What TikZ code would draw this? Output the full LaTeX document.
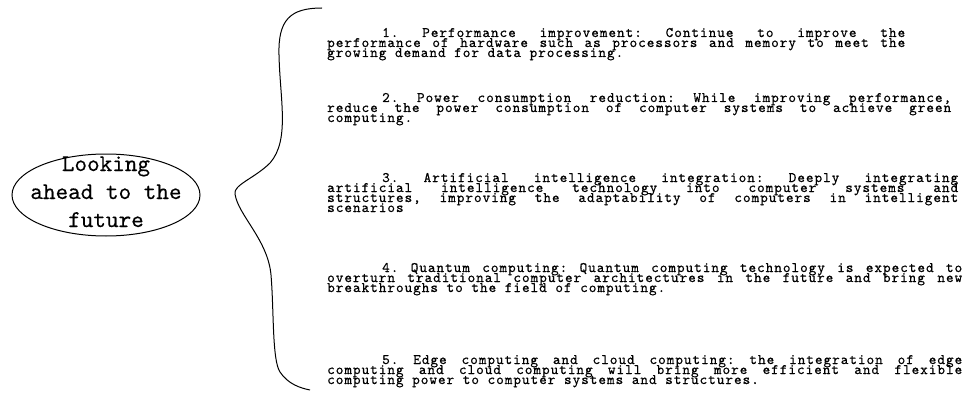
\documentclass[tikz,border=0pt]{standalone}
\usepackage{fontspec}
\newfontfamily\bodyfont{lmmono10-regular}[Extension=.otf, LetterSpace=6.8, FakeBold=0.5]
\newfontfamily\ovalfont{lmmono10-regular}[Extension=.otf, FakeBold=0.3]
\usetikzlibrary{shapes.geometric}
\begin{document}
\begin{tikzpicture}[x=1pt,y=-1pt,
  ovalshape/.style={ellipse, draw, line width=1pt, inner sep=0pt, minimum width=188pt, minimum height=82pt},
  ovaltext/.style={inner sep=0pt, align=center, font={\ovalfont\fontsize{24}{28}\selectfont\lineskiplimit=-30pt\relax}},
  itemtext/.style={anchor=base west, inner sep=0pt, align=justify,
    font={\bodyfont\fontsize{14.5}{10}\selectfont\lineskiplimit=-30pt\relax\frenchspacing\spaceskip=8.6pt plus 30pt\relax\hyphenpenalty=10000\relax}},
  bracestyle/.style={line width=1pt}]
\fill[white] (0,0) rectangle (979,401);
\useasboundingbox (0,0) rectangle (979,401);

\node[ovalshape] (oval) at (106,195) {};
\node[ovaltext, anchor=base] (ovaltxt) at (106,227) {Looking\\ahead to the\\future};

\coordinate (bracetop) at (322,8);
\coordinate (bracetip) at (235,194);
\coordinate (bracebot) at (310,390);
\draw[bracestyle] (bracetop) .. controls (290,8) and (278,20) .. (279,55)
  .. controls (280,100) and (290,140) .. (270,163)
  .. controls (255,178) and (233,185) .. (bracetip)
  .. controls (238,215) and (268,240) .. (271,275)
  .. controls (274,310) and (272,360) .. (280,372)
  .. controls (288,384) and (300,388) .. (bracebot);

\node[itemtext, text width=578pt] (item1) at (327,37) {\hspace*{55pt}1. Performance improvement: Continue to improve the\linebreak performance of hardware such as processors and memory to meet the\linebreak growing demand for data processing.};
\node[itemtext, text width=624pt] (item2) at (327,102) {\hspace*{55pt}2. Power consumption reduction: While improving performance,\linebreak reduce the power consumption of computer systems to achieve green\linebreak computing.};
\node[itemtext, text width=631pt] (item3) at (327,182) {\hspace*{55pt}3. Artificial intelligence integration: Deeply integrating\linebreak artificial intelligence technology into computer systems and\linebreak structures, improving the adaptability of computers in intelligent\linebreak scenarios};
\node[itemtext, text width=635pt] (item4) at (327,272) {\hspace*{55pt}4. Quantum computing: Quantum computing technology is expected to\linebreak overturn traditional computer architectures in the future and bring new\linebreak breakthroughs to the field of computing.};
\node[itemtext, text width=635pt] (item5) at (327,364) {\hspace*{55pt}5. Edge computing and cloud computing: the integration of edge\linebreak computing and cloud computing will bring more efficient and flexible\linebreak computing power to computer systems and structures.};
\end{tikzpicture}
\end{document}
